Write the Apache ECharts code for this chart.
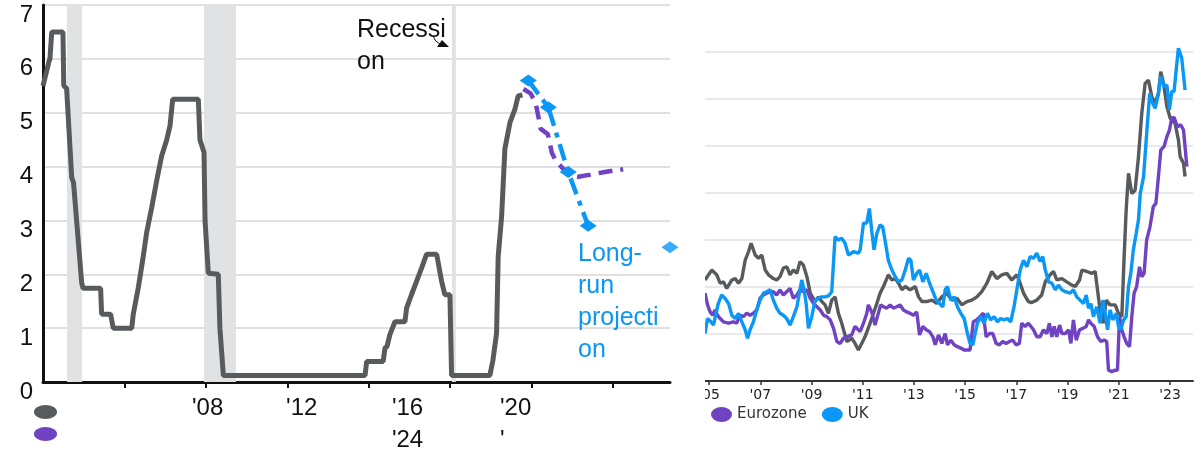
<!DOCTYPE html>
<html>
<head>
<meta charset="utf-8">
<script src="https://cdn.jsdelivr.net/npm/echarts@6/dist/echarts.min.js"></script>
<style>
  html, body { margin: 0; padding: 0; background: #fff; }
  #wrap { position: relative; width: 1203px; height: 453px; overflow: hidden; }
  #rates { position: absolute; left: 0; top: 0; width: 700px; height: 453px; }
  #pricesFrame { position: absolute; left: 705px; top: 0; width: 498px; height: 453px; overflow: hidden; }
  #prices { position: absolute; left: -30px; top: 0; width: 528px; height: 453px; }
</style>
</head>
<body>
<div id="wrap">
  <div id="rates"></div>
  <div id="pricesFrame"><div id="prices"></div></div>
</div>
<script>
// ---------- Policy rate panel data ----------
// [year, percent]
const fedFunds = [
  [2000.00, 5.50], [2000.30, 5.96], [2000.34, 6.00], [2000.43, 6.50], [2000.98, 6.50],
  [2001.02, 5.50], [2001.16, 5.45], [2001.41, 3.80], [2001.50, 3.70], [2001.90, 1.84],
  [2001.97, 1.74], [2002.83, 1.74], [2002.88, 1.26], [2003.32, 1.26], [2003.45, 1.00],
  [2004.36, 1.00], [2004.43, 1.25], [2004.50, 1.27], [2004.68, 1.75], [2004.74, 1.77],
  [2004.90, 2.27], [2004.96, 2.29], [2005.09, 2.77], [2005.15, 2.79], [2005.34, 3.24],
  [2005.40, 3.26], [2005.58, 3.73], [2005.64, 3.75], [2005.83, 4.20], [2005.90, 4.22],
  [2006.08, 4.50], [2006.14, 4.52], [2006.24, 4.76], [2006.37, 5.25], [2007.63, 5.25],
  [2007.71, 4.50], [2007.91, 4.26], [2007.96, 3.00], [2008.12, 2.02], [2008.61, 2.00],
  [2008.69, 1.00], [2008.86, 0.12], [2015.82, 0.12], [2015.90, 0.38], [2016.71, 0.38],
  [2016.80, 0.63], [2016.90, 0.66], [2017.04, 0.88], [2017.12, 0.90], [2017.29, 1.12],
  [2017.78, 1.12], [2017.86, 1.37], [2017.94, 1.39], [2018.10, 1.62], [2018.18, 1.64],
  [2018.35, 1.87], [2018.42, 1.89], [2018.60, 2.12], [2018.68, 2.14], [2018.84, 2.37],
  [2019.34, 2.37], [2019.58, 1.87], [2019.74, 1.62], [2019.99, 1.62], [2020.07, 0.12],
  [2021.95, 0.12], [2022.10, 0.40], [2022.28, 0.90], [2022.36, 2.33], [2022.53, 3.08],
  [2022.69, 4.33], [2022.94, 4.82], [2023.18, 5.06], [2023.34, 5.31], [2023.55, 5.33]
];
const marketPath = [
  [2023.60, 5.44], [2023.95, 5.36], [2024.20, 5.18], [2024.35, 4.90], [2024.45, 4.70],
  [2024.80, 4.60], [2025.00, 4.25], [2025.20, 4.10], [2025.45, 4.00], [2025.90, 3.83],
  [2026.30, 3.81], [2026.90, 3.85], [2027.60, 3.90], [2028.50, 3.95]
];
const fomcMedian = [[2023.84, 5.6], [2024.82, 5.1], [2025.80, 3.9], [2026.78, 2.9]];
const longRun = [[2030.80, 2.5]];
const recessions = [[2001.18, 2001.92], [2007.91, 2009.48], [2020.09, 2020.28]];

const rateTicks = [2004, 2008, 2012, 2016, 2020, 2024, 2028];
const rateLabelValues = [2007.32, 2011.94, 2017.14, 2022.45];
const rateLabels = ["'08", "'12", "'16\n'24", "'20\n'"];

// ---------- Core inflation panel data ----------
const usCore = [
  [2004.84, 2.15], [2005.10, 2.36], [2005.30, 2.26], [2005.43, 2.08], [2005.56, 2.11],
  [2005.69, 1.97], [2005.89, 2.15], [2006.02, 2.18], [2006.15, 2.08], [2006.28, 2.18],
  [2006.41, 2.57], [2006.54, 2.75], [2006.64, 2.93], [2006.80, 2.68], [2006.93, 2.61],
  [2007.06, 2.68], [2007.19, 2.36], [2007.32, 2.26], [2007.51, 2.18], [2007.64, 2.15],
  [2007.77, 2.22], [2007.90, 2.40], [2008.04, 2.43], [2008.16, 2.26], [2008.29, 2.36],
  [2008.43, 2.29], [2008.55, 2.54], [2008.68, 2.47], [2008.82, 2.22], [2008.95, 1.87],
  [2009.14, 1.69], [2009.27, 1.79], [2009.40, 1.69], [2009.53, 1.62], [2009.66, 1.44],
  [2009.79, 1.72], [2009.92, 1.79], [2010.05, 1.44], [2010.18, 1.23], [2010.38, 0.84],
  [2010.57, 0.91], [2010.70, 0.80], [2010.83, 0.66], [2010.96, 0.80], [2011.09, 0.94],
  [2011.29, 1.23], [2011.42, 1.44], [2011.55, 1.65], [2011.68, 1.87], [2011.81, 2.01],
  [2012.00, 2.26], [2012.14, 2.15], [2012.27, 2.18], [2012.40, 2.08], [2012.53, 1.94],
  [2012.66, 2.01], [2012.85, 1.94], [2013.05, 2.01], [2013.18, 1.79], [2013.31, 1.69],
  [2013.50, 1.69], [2013.70, 1.72], [2013.89, 1.65], [2014.09, 1.79], [2014.28, 1.87],
  [2014.48, 1.72], [2014.68, 1.76], [2014.87, 1.62], [2015.07, 1.69], [2015.26, 1.72],
  [2015.46, 1.79], [2015.65, 1.90], [2015.85, 2.08], [2016.04, 2.33], [2016.24, 2.18],
  [2016.43, 2.26], [2016.63, 2.29], [2016.82, 2.15], [2017.02, 2.26], [2017.15, 2.08],
  [2017.28, 1.87], [2017.47, 1.69], [2017.60, 1.67], [2017.80, 1.72], [2017.99, 1.83],
  [2018.13, 2.11], [2018.32, 2.26], [2018.45, 2.33], [2018.58, 2.15], [2018.78, 2.18],
  [2018.97, 2.11], [2019.17, 2.04], [2019.30, 2.01], [2019.47, 2.15], [2019.56, 2.36],
  [2019.75, 2.33], [2019.95, 2.29], [2020.08, 2.33], [2020.17, 1.94], [2020.27, 1.51],
  [2020.40, 1.23], [2020.51, 1.72], [2020.66, 1.62], [2020.86, 1.62], [2020.99, 1.44],
  [2021.12, 1.37], [2021.21, 2.64], [2021.29, 3.64], [2021.38, 4.42], [2021.51, 3.99],
  [2021.64, 4.06], [2021.77, 4.77], [2021.90, 5.70], [2022.03, 6.33], [2022.16, 6.40],
  [2022.29, 6.05], [2022.42, 5.91], [2022.55, 6.12], [2022.64, 6.58], [2022.75, 6.33],
  [2022.88, 5.84], [2023.01, 5.59], [2023.20, 5.48], [2023.33, 5.13], [2023.40, 4.77],
  [2023.53, 4.63], [2023.59, 4.35]
];
const euroCore = [
  [2004.84, 1.87], [2004.94, 1.62], [2005.04, 1.47], [2005.14, 1.40], [2005.23, 1.51],
  [2005.33, 1.40], [2005.43, 1.33], [2005.56, 1.26], [2005.76, 1.23], [2005.95, 1.26],
  [2006.08, 1.23], [2006.21, 1.40], [2006.34, 1.37], [2006.47, 1.44], [2006.60, 1.40],
  [2006.73, 1.44], [2006.86, 1.51], [2006.99, 1.76], [2007.12, 1.83], [2007.25, 1.87],
  [2007.38, 1.90], [2007.51, 1.90], [2007.64, 1.83], [2007.77, 1.94], [2007.90, 1.83],
  [2008.03, 1.90], [2008.16, 1.97], [2008.29, 1.76], [2008.43, 1.83], [2008.55, 1.94],
  [2008.68, 1.90], [2008.82, 1.94], [2008.95, 1.76], [2009.08, 1.65], [2009.21, 1.58],
  [2009.34, 1.51], [2009.47, 1.40], [2009.60, 1.37], [2009.73, 1.30], [2009.86, 1.12],
  [2009.99, 0.84], [2010.12, 0.80], [2010.25, 0.91], [2010.38, 0.94], [2010.57, 0.98],
  [2010.70, 1.16], [2010.90, 1.05], [2011.03, 1.23], [2011.16, 1.44], [2011.22, 1.62],
  [2011.35, 1.47], [2011.48, 1.19], [2011.61, 1.44], [2011.70, 1.62], [2011.81, 1.58],
  [2011.94, 1.55], [2012.07, 1.62], [2012.20, 1.55], [2012.33, 1.58], [2012.46, 1.62],
  [2012.59, 1.51], [2012.72, 1.47], [2012.85, 1.44], [2012.98, 1.40], [2013.11, 1.47],
  [2013.22, 0.98], [2013.35, 1.16], [2013.48, 1.09], [2013.61, 1.05], [2013.74, 0.94],
  [2013.83, 0.77], [2013.96, 0.98], [2014.09, 0.80], [2014.22, 1.01], [2014.31, 0.77],
  [2014.44, 0.87], [2014.57, 0.77], [2014.70, 0.73], [2014.83, 0.70], [2014.96, 0.66],
  [2015.09, 0.66], [2015.19, 0.66], [2015.32, 1.26], [2015.45, 1.30], [2015.58, 1.37],
  [2015.71, 1.44], [2015.82, 0.94], [2015.95, 1.01], [2016.08, 1.01], [2016.21, 0.80],
  [2016.34, 0.77], [2016.47, 0.84], [2016.60, 0.80], [2016.73, 0.84], [2016.86, 0.87],
  [2016.99, 0.77], [2017.12, 0.80], [2017.21, 1.23], [2017.34, 1.16], [2017.47, 1.23],
  [2017.54, 1.23], [2017.67, 1.09], [2017.80, 0.94], [2017.93, 0.94], [2018.06, 1.09],
  [2018.19, 1.01], [2018.29, 1.23], [2018.39, 0.94], [2018.48, 1.16], [2018.58, 0.94],
  [2018.69, 1.19], [2018.78, 1.01], [2018.91, 1.01], [2019.04, 1.09], [2019.13, 0.80],
  [2019.23, 1.30], [2019.34, 0.87], [2019.47, 1.09], [2019.60, 1.12], [2019.73, 1.16],
  [2019.82, 1.30], [2019.91, 1.23], [2020.04, 1.16], [2020.17, 0.94], [2020.30, 0.84],
  [2020.43, 0.87], [2020.53, 0.84], [2020.60, 0.23], [2020.73, 0.20], [2020.86, 0.23],
  [2020.95, 0.23], [2021.03, 1.37], [2021.12, 1.09], [2021.21, 0.94], [2021.31, 0.80],
  [2021.42, 0.73], [2021.51, 1.37], [2021.60, 1.87], [2021.70, 2.01], [2021.81, 2.43],
  [2021.90, 2.22], [2021.99, 2.29], [2022.09, 3.00], [2022.22, 3.28], [2022.35, 3.71],
  [2022.45, 3.78], [2022.55, 4.35], [2022.64, 4.91], [2022.77, 4.99], [2022.88, 5.20],
  [2022.98, 5.34], [2023.07, 5.59], [2023.16, 5.61], [2023.29, 5.41], [2023.42, 5.45],
  [2023.53, 5.34], [2023.66, 4.56]
];
const ukCore = [
  [2004.84, 1.01], [2004.94, 1.33], [2005.07, 1.26], [2005.17, 1.19], [2005.36, 1.65],
  [2005.49, 1.83], [2005.62, 1.76], [2005.76, 1.65], [2005.89, 1.40], [2006.02, 1.33],
  [2006.15, 1.44], [2006.28, 1.26], [2006.41, 1.09], [2006.50, 0.91], [2006.60, 1.09],
  [2006.73, 1.26], [2006.86, 1.51], [2006.99, 1.72], [2007.12, 1.87], [2007.25, 1.90],
  [2007.38, 1.94], [2007.51, 1.72], [2007.64, 1.55], [2007.77, 1.44], [2007.90, 1.40],
  [2008.03, 1.33], [2008.16, 1.19], [2008.29, 1.37], [2008.43, 1.58], [2008.55, 1.94],
  [2008.62, 2.15], [2008.71, 1.94], [2008.79, 1.65], [2008.88, 1.12], [2009.01, 1.37],
  [2009.14, 1.72], [2009.27, 1.76], [2009.40, 1.79], [2009.53, 1.79], [2009.66, 1.81],
  [2009.79, 1.90], [2009.92, 3.07], [2010.05, 3.00], [2010.18, 3.04], [2010.31, 2.93],
  [2010.44, 2.68], [2010.64, 2.75], [2010.83, 2.72], [2010.90, 2.79], [2011.03, 3.36],
  [2011.16, 3.36], [2011.26, 3.67], [2011.35, 3.21], [2011.44, 2.79], [2011.55, 3.14],
  [2011.68, 3.32], [2011.78, 3.28], [2011.87, 3.00], [2012.00, 2.57], [2012.14, 2.36],
  [2012.27, 2.22], [2012.40, 2.11], [2012.53, 2.15], [2012.66, 2.36], [2012.79, 2.61],
  [2012.88, 2.57], [2012.98, 2.15], [2013.11, 2.29], [2013.22, 2.36], [2013.35, 2.11],
  [2013.48, 2.29], [2013.61, 2.08], [2013.74, 1.90], [2013.87, 1.72], [2014.00, 1.65],
  [2014.13, 1.58], [2014.22, 1.94], [2014.31, 2.01], [2014.44, 1.72], [2014.57, 1.79],
  [2014.70, 1.58], [2014.83, 1.44], [2014.96, 1.33], [2015.09, 1.01], [2015.19, 0.80],
  [2015.30, 0.77], [2015.39, 1.01], [2015.48, 1.23], [2015.61, 1.37], [2015.74, 1.23],
  [2015.87, 1.44], [2016.00, 1.30], [2016.13, 1.37], [2016.26, 1.26], [2016.39, 1.33],
  [2016.52, 1.30], [2016.65, 1.33], [2016.78, 1.26], [2016.91, 1.58], [2017.02, 1.94],
  [2017.15, 2.36], [2017.28, 2.57], [2017.41, 2.43], [2017.54, 2.65], [2017.67, 2.61],
  [2017.80, 2.72], [2017.93, 2.54], [2018.03, 2.65], [2018.13, 2.36], [2018.26, 2.11],
  [2018.39, 2.08], [2018.52, 1.94], [2018.64, 2.04], [2018.78, 1.94], [2018.91, 1.90],
  [2019.10, 1.87], [2019.23, 1.94], [2019.36, 1.79], [2019.49, 1.72], [2019.62, 1.65],
  [2019.73, 1.83], [2019.82, 1.55], [2019.91, 1.65], [2020.01, 1.37], [2020.14, 1.58],
  [2020.27, 1.23], [2020.38, 1.72], [2020.47, 1.44], [2020.56, 1.09], [2020.66, 1.51],
  [2020.77, 1.30], [2020.90, 1.44], [2020.99, 1.16], [2021.08, 1.09], [2021.19, 1.30],
  [2021.29, 1.37], [2021.38, 2.01], [2021.47, 2.29], [2021.57, 2.79], [2021.68, 3.14],
  [2021.77, 3.43], [2021.84, 3.99], [2021.97, 4.35], [2022.10, 5.34], [2022.21, 6.12],
  [2022.30, 5.94], [2022.42, 5.80], [2022.55, 6.12], [2022.64, 6.48], [2022.77, 6.26],
  [2022.88, 6.30], [2022.98, 5.77], [2023.07, 6.16], [2023.16, 6.16], [2023.27, 6.76],
  [2023.33, 7.08], [2023.46, 6.87], [2023.53, 6.83], [2023.59, 6.19]
];
const priceTicks = [2005, 2007, 2009, 2011, 2013, 2015, 2017, 2019, 2021, 2023];

// ---------- Shared styling ----------
const GRAY = '#575b5e';
const PURPLE = '#6f43c1';
const BLUE = '#0a97f5';
const LEFT_FONT = 'Liberation Sans';
const RIGHT_FONT = 'DejaVu Sans';
// oval legend markers, drawn with their own proportions
const OVAL_L = 'path://M0,7A11.5,7,0,1,1,23,7A11.5,7,0,1,1,0,7Z';
const OVAL_R = 'path://M0,7.5A10.5,7.5,0,1,1,21,7.5A10.5,7.5,0,1,1,0,7.5Z';

// ---------- Policy rate chart ----------
const rates = echarts.init(document.getElementById('rates'), null, { renderer: 'canvas' });
rates.setOption({
  animation: false,
  backgroundColor: '#fff',
  grid: { left: 43, top: 5, width: 627, height: 377, outerBoundsMode: 'none' },
  legend: {
    orient: 'vertical', left: 34, top: 405, padding: 0,
    itemWidth: 23, itemHeight: 14, itemGap: 8,
    icon: OVAL_L, formatter: () => '',
    data: ['Fed funds rate', 'Market expectations'],
    selectedMode: false,
    itemStyle: { borderWidth: 0 }
  },
  xAxis: {
    type: 'value', min: 2000, max: 2030.8,
    axisLine: { show: true, onZero: false, lineStyle: { color: '#111', width: 3 } },
    axisTick: { show: true, customValues: rateTicks, length: 6, lineStyle: { color: '#111', width: 2 } },
    axisLabel: {
      customValues: rateLabelValues,
      formatter: (v) => rateLabels[rateLabelValues.indexOf(v)] || '',
      align: 'left', margin: 10,
      fontFamily: LEFT_FONT, fontSize: 24, lineHeight: 32, color: '#111'
    },
    splitLine: { show: false }
  },
  yAxis: {
    type: 'value', min: 0, max: 7, interval: 1,
    axisLine: { show: true, lineStyle: { color: '#111', width: 3 } },
    axisTick: { show: false },
    axisLabel: {
      fontFamily: LEFT_FONT, fontSize: 24, color: '#111', margin: 10,
      verticalAlign: 'top', lineHeight: 20
    },
    splitLine: { lineStyle: { color: '#d6d6d6', width: 1.5 } }
  },
  series: [
    {
      name: 'Recessions', type: 'line', data: [], silent: true, z: 1,
      markArea: {
        silent: true,
        itemStyle: { color: '#e1e2e4' },
        data: recessions.map(r => [{ xAxis: r[0] }, { xAxis: r[1] }])
      }
    },
    {
      name: 'Fed funds rate', type: 'line', data: fedFunds, z: 3,
      showSymbol: false, symbol: 'none',
      itemStyle: { color: GRAY },
      lineStyle: { color: GRAY, width: 5 }
    },
    {
      name: 'Market expectations', type: 'line', data: marketPath, z: 4,
      showSymbol: false, symbol: 'none',
      itemStyle: { color: PURPLE },
      lineStyle: { color: PURPLE, width: 4.5, type: [14, 8] }
    },
    {
      name: 'FOMC median', type: 'line', data: fomcMedian, z: 5,
      symbol: 'diamond', symbolSize: [17, 12], showSymbol: true,
      itemStyle: { color: BLUE },
      lineStyle: { color: BLUE, width: 4.5, type: [17, 7, 5, 7] }
    },
    {
      name: 'Long run', type: 'scatter', data: longRun, z: 5, clip: false,
      symbol: 'diamond', symbolSize: [17, 12],
      itemStyle: { color: BLUE }
    }
  ]
});

// Annotations placed relative to the axis coordinates
function placeRateNotes() {
  const band = rates.convertToPixel({ gridIndex: 0 }, [recessions[2][0], 7]);
  const lr = rates.convertToPixel({ gridIndex: 0 }, longRun[0]);
  const ax = band[0] - 95, ay = band[1];
  rates.setOption({
    graphic: [
      {
        type: 'text', left: ax, top: ay + 9, z: 10,
        style: { text: 'Recessi\non', font: '25px "Liberation Sans"', lineHeight: 32, fill: '#111' }
      },
      {
        type: 'bezierCurve', z: 10,
        shape: { x1: ax + 76, y1: ay + 31, cpx1: ax + 78, cpy1: ay + 37, x2: ax + 83, y2: ay + 39 },
        style: { stroke: '#111', lineWidth: 1, fill: null }
      },
      {
        type: 'polygon', z: 10,
        shape: { points: [[ax + 80, ay + 42], [ax + 92, ay + 42], [ax + 85, ay + 35]] },
        style: { fill: '#111' }
      },
      {
        type: 'text', left: lr[0] - 92, top: lr[1] - 9, z: 10,
        style: { text: 'Long-\nrun\nprojecti\non', font: '25px "Liberation Sans"', lineHeight: 32, fill: BLUE }
      }
    ]
  });
}
placeRateNotes();

// ---------- Core inflation chart ----------
// The canvas extends 30px past the frame's left edge so the first label is cut by the frame.
const prices = echarts.init(document.getElementById('prices'), null, { renderer: 'canvas' });
prices.setOption({
  animation: false,
  backgroundColor: '#fff',
  grid: { left: 30, top: 5, right: 10, bottom: 72, outerBoundsMode: 'none' },
  legend: {
    left: 36, top: 407, padding: 0,
    itemWidth: 21, itemHeight: 15, itemGap: 15,
    icon: OVAL_R, selectedMode: false,
    data: ['Eurozone', 'UK'],
    textStyle: { fontFamily: RIGHT_FONT, fontSize: 15, color: '#333' },
    itemStyle: { borderWidth: 0 }
  },
  xAxis: {
    type: 'value', min: 2004.84, max: 2023.9,
    axisLine: { show: true, onZero: false, lineStyle: { color: '#333', width: 2 } },
    axisTick: { show: true, customValues: priceTicks, length: 4, lineStyle: { color: '#333', width: 1.5 } },
    axisLabel: {
      customValues: priceTicks,
      formatter: (v) => "'" + String(v).slice(2),
      fontFamily: RIGHT_FONT, fontSize: 14, color: '#222', margin: 7
    },
    splitLine: { show: false }
  },
  yAxis: {
    type: 'value', min: 0, max: 8, interval: 1,
    axisLine: { show: false }, axisTick: { show: false }, axisLabel: { show: false },
    splitLine: { showMinLine: false, showMaxLine: false, lineStyle: { color: '#e2e2e2', width: 1.5 } }
  },
  series: [
    {
      name: 'US', type: 'line', data: usCore, showSymbol: false, symbol: 'none',
      itemStyle: { color: GRAY }, lineStyle: { color: GRAY, width: 3.4 }
    },
    {
      name: 'Eurozone', type: 'line', data: euroCore, showSymbol: false, symbol: 'none',
      itemStyle: { color: PURPLE }, lineStyle: { color: PURPLE, width: 3.4 }
    },
    {
      name: 'UK', type: 'line', data: ukCore, showSymbol: false, symbol: 'none',
      itemStyle: { color: BLUE }, lineStyle: { color: BLUE, width: 3.4 }
    }
  ]
});
</script>
</body>
</html>
